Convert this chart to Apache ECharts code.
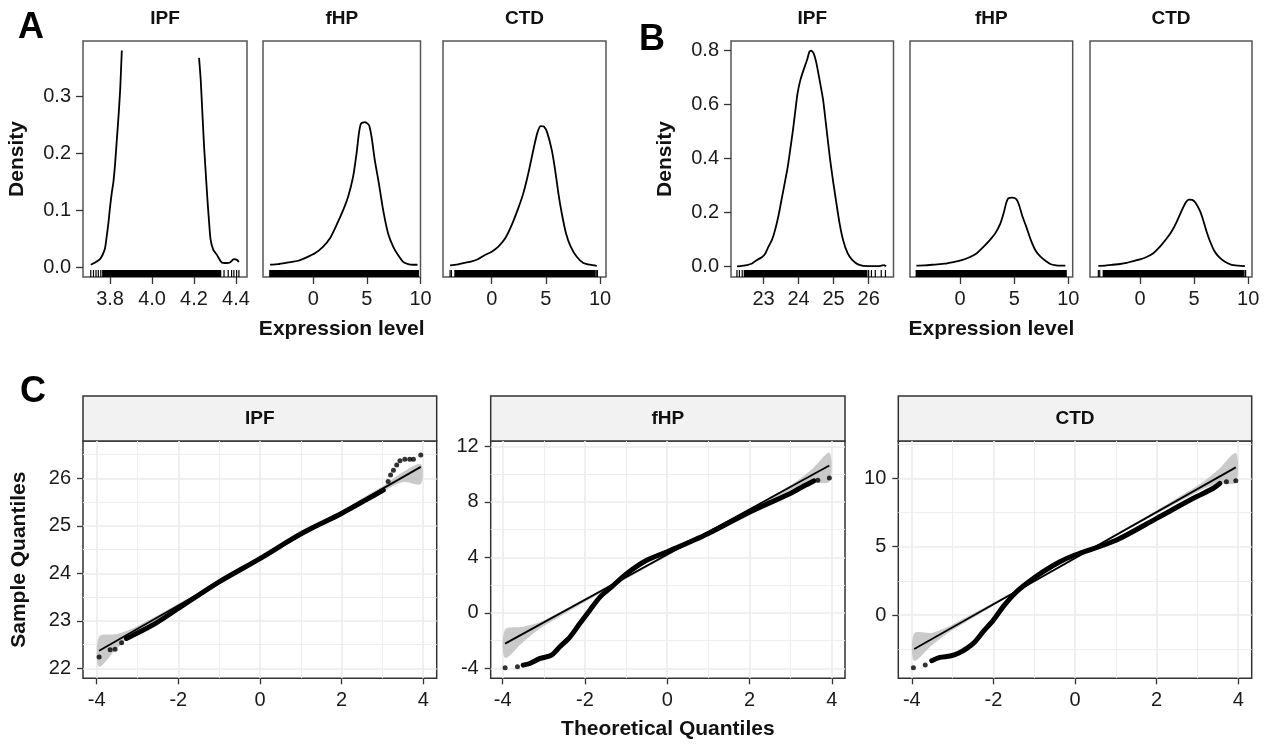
<!DOCTYPE html>
<html>
<head>
<meta charset="utf-8">
<title>Expression density and QQ plots</title>
<script src="https://cdn.jsdelivr.net/npm/echarts@6/dist/echarts.min.js"></script>
<style>
    html, body { margin: 0; padding: 0; background: #fff; }
    #chart { width: 1270px; height: 745px; }
</style>
</head>
<body>
<div id="chart"></div>
<script>
    const FONT = '"Liberation Sans", Arial, sans-serif';

    // ---------- A / B : density curves ----------
    const aIpfLeftX  = [3.708, 3.729, 3.752, 3.765, 3.776, 3.784, 3.792, 3.800, 3.808, 3.816, 3.824, 3.832, 3.840, 3.848, 3.856];
    const aIpfLeftY  = [0.004, 0.008, 0.014, 0.022, 0.033, 0.054, 0.077, 0.106, 0.130, 0.150, 0.182, 0.223, 0.264, 0.311, 0.381];
    const aIpfRightX = [4.224, 4.232, 4.240, 4.248, 4.256, 4.263, 4.271, 4.279, 4.292, 4.308, 4.332, 4.356, 4.371, 4.390, 4.403, 4.414];
    const aIpfRightY = [0.368, 0.329, 0.270, 0.212, 0.165, 0.124, 0.083, 0.048, 0.030, 0.022, 0.008, 0.007, 0.008, 0.014, 0.013, 0.009];

    const bIpfX = [22.24, 22.38, 22.53, 22.67, 22.81, 22.95, 23.05, 23.14, 23.24, 23.33, 23.43, 23.53, 23.62, 23.69, 23.76, 23.84, 23.91, 23.97,
                   24.05, 24.14, 24.24, 24.31, 24.36, 24.43, 24.51, 24.60, 24.70, 24.79, 24.89, 24.98, 25.08, 25.17, 25.27, 25.40, 25.53, 25.71, 26.00, 26.29, 26.43, 26.50];
    const bIpfY = [0.001, 0.003, 0.006, 0.012, 0.025, 0.035, 0.049, 0.074, 0.099, 0.136, 0.191, 0.259, 0.320, 0.369, 0.431, 0.505, 0.579, 0.640,
                   0.689, 0.726, 0.763, 0.794, 0.798, 0.788, 0.751, 0.689, 0.616, 0.517, 0.406, 0.320, 0.234, 0.160, 0.099, 0.050, 0.025, 0.008, 0.002, 0.002, 0.006, 0.002];

    const fhpDensX = [-4.03, -3.26, -2.33, -1.40, -0.61, 0.16, 0.93, 1.55, 2.18, 2.79, 3.26, 3.72, 4.04, 4.26, 4.44, 4.81, 5.19, 5.44, 5.74, 6.12, 6.52, 6.98, 7.45, 7.91, 8.38, 8.85, 9.31, 9.72];
    const fhpDensY = [0.004, 0.005, 0.008, 0.011, 0.017, 0.024, 0.036, 0.050, 0.074, 0.100, 0.124, 0.159, 0.200, 0.235, 0.252, 0.255, 0.250, 0.229, 0.188, 0.147, 0.100, 0.059, 0.036, 0.021, 0.009, 0.005, 0.004, 0.004];

    const ctdDensX = [-3.85, -3.23, -2.62, -1.85, -1.24, -0.62, 0.00, 0.61, 1.23, 1.85, 2.46, 2.92, 3.38, 3.84, 4.21, 4.52, 4.83, 5.13, 5.54, 5.85, 6.15, 6.46, 6.86, 7.29, 7.85, 8.46, 9.08, 9.70];
    const ctdDensY = [0.003, 0.004, 0.007, 0.010, 0.014, 0.021, 0.027, 0.036, 0.050, 0.074, 0.104, 0.130, 0.165, 0.206, 0.236, 0.248, 0.247, 0.236, 0.206, 0.171, 0.130, 0.095, 0.059, 0.036, 0.018, 0.007, 0.004, 0.002];

    // rug: isolated ticks + one dense band [from, to]
    const aIpfRugTicks = [3.708, 3.721, 3.733, 3.744, 3.756, 4.343, 4.363, 4.379, 4.390, 4.403, 4.414];
    const aIpfRugBand  = [3.765, 4.327];
    const bIpfRugTicks = [22.24, 22.31, 22.39, 26.00, 26.08, 26.19, 26.36, 26.48];
    const bIpfRugBand  = [22.45, 25.95];
    const fhpRugTicks  = [];
    const fhpRugBand   = [-4.05, 9.80];
    const ctdRugTicks  = [-3.85, -3.72, 9.70, 9.76];
    const ctdRugBand   = [-3.40, 9.55];

    const aYTicks    = [0, 0.1, 0.2, 0.3];
    const bYTicks    = [0, 0.2, 0.4, 0.6, 0.8];
    const aIpfXTicks = [3.8, 4.0, 4.2, 4.4];
    const bIpfXTicks = [23, 24, 25, 26];
    const groupXTicks = [0, 5, 10];

    // ---------- C : QQ plots ----------
    const ipfQqX = [-3.27, -2.61, -2.00, -1.00, 0.00, 1.02, 2.00, 2.61, 3.02];
    const ipfQqY = [22.63, 22.92, 23.26, 23.82, 24.31, 24.84, 25.26, 25.55, 25.75];
    const ipfQqDots = [[-3.94, 22.24], [-3.67, 22.39], [-3.55, 22.40], [-3.39, 22.54], [3.14, 25.93], [3.20, 26.07], [3.27, 26.17], [3.35, 26.28],
                       [3.43, 26.37], [3.55, 26.40], [3.67, 26.40], [3.76, 26.40], [3.94, 26.49]];
    const ipfFitX = [-3.94, 3.94];
    const ipfFitY = [22.37, 26.24];
    const ipfBandX  = [-3.94, -3.50, -3.00, 0.00, 3.00, 3.50, 3.94];
    const ipfBandLo = [22.03, 22.42, 22.77, 24.27, 25.71, 25.92, 25.88];
    const ipfBandHi = [22.67, 22.72, 22.89, 24.33, 25.83, 26.13, 26.30];

    const fhpQqX = [-3.50, -3.34, -3.09, -2.81, -2.61, -2.36, -2.12, -1.88, -1.63, -1.35, -0.98, -0.50, 0.00, 1.00, 2.01, 2.99, 3.31, 3.56];
    const fhpQqY = [-3.77, -3.65, -3.29, -3.05, -2.45, -1.73, -0.76, 0.19, 1.15, 1.87, 2.84, 3.79, 4.40, 5.72, 7.27, 8.60, 9.12, 9.50];
    const fhpQqDots = [[-3.94, -3.96], [-3.64, -3.89], [3.66, 9.55], [3.94, 9.72]];
    const fhpFitX = [-3.94, 3.94];
    const fhpFitY = [-2.22, 10.62];
    const fhpBandX  = [-3.94, -3.50, -3.00, 0.00, 3.00, 3.50, 3.94];
    const fhpBandLo = [-3.25, -2.10, -0.95, 4.10, 8.85, 9.35, 9.45];
    const fhpBandHi = [-1.20, -1.00, -0.55, 4.25, 9.20, 10.30, 11.55];

    const ctdQqX = [-3.51, -3.31, -3.06, -2.86, -2.65, -2.45, -2.25, -2.00, -1.76, -1.47, -1.18, -0.78, -0.37, 0.00, 1.02, 2.00, 2.90, 3.39, 3.55];
    const ctdQqY = [-3.34, -3.10, -3.00, -2.80, -2.44, -1.95, -1.22, -0.37, 0.61, 1.59, 2.32, 3.17, 3.90, 4.39, 5.49, 7.07, 8.54, 9.27, 9.63];
    const ctdQqDots = [[-3.96, -3.85], [-3.67, -3.66], [3.71, 9.75], [3.94, 9.83]];
    const ctdFitX = [-3.94, 3.94];
    const ctdFitY = [-2.48, 10.80];
    const ctdBandX  = [-3.94, -3.50, -3.00, 0.00, 3.00, 3.50, 3.94];
    const ctdBandLo = [-3.35, -2.20, -1.10, 4.12, 9.00, 9.60, 9.70];
    const ctdBandHi = [-1.35, -1.30, -0.70, 4.20, 9.45, 10.60, 11.85];

    const qqXTicks = [-4, -2, 0, 2, 4];
    const qqXMinor = [-3, -1, 1, 3];
    const ipfYTicks = [22, 23, 24, 25, 26];
    const ipfYMinor = [22.5, 23.5, 24.5, 25.5, 26.5];
    const fhpYTicks = [-4, 0, 4, 8, 12];
    const fhpYMinor = [-2, 2, 6, 10];
    const ctdYTicks = [0, 5, 10];
    const ctdYMinor = [-2.5, 2.5, 7.5, 12.5];

    // ---------- layout ----------
    const densPanels = [
        {name: 'IPF', left: 83,  width: 164,   xMin: 3.671, xMax: 4.4525, xTicks: aIpfXTicks, dec: 1, yMin: -0.0176, yMax: 0.3977, yTicks: aYTicks, showY: true},
        {name: 'fHP', left: 263, width: 157.5, xMin: -4.68, xMax: 10.0,   xTicks: groupXTicks, dec: 0, yMin: -0.0176, yMax: 0.3977, yTicks: aYTicks, xName: 'Expression level'},
        {name: 'CTD', left: 443, width: 163,   xMin: -4.50, xMax: 10.55,  xTicks: groupXTicks, dec: 0, yMin: -0.0176, yMax: 0.3977, yTicks: aYTicks},
        {name: 'IPF', left: 731, width: 162.5, xMin: 22.07, xMax: 26.71,  xTicks: bIpfXTicks, dec: 0, yMin: -0.038, yMax: 0.8335, yTicks: bYTicks, showY: true},
        {name: 'fHP', left: 910, width: 162.7, xMin: -4.62, xMax: 10.40,  xTicks: groupXTicks, dec: 0, yMin: -0.038, yMax: 0.8335, yTicks: bYTicks, xName: 'Expression level'},
        {name: 'CTD', left: 1090, width: 162,  xMin: -4.62, xMax: 10.35,  xTicks: groupXTicks, dec: 0, yMin: -0.038, yMax: 0.8335, yTicks: bYTicks}
    ];
    const qqPanels = [
        {name: 'IPF', left: 83,    width: 353.7, xMin: -4.335, xMax: 4.33, yMin: 21.79, yMax: 26.785, yTicks: ipfYTicks, yMinor: ipfYMinor, yName: 'Sample Quantiles'},
        {name: 'fHP', left: 490.7, width: 354.3, xMin: -4.29,  xMax: 4.32, yMin: -4.72, yMax: 12.38,  yTicks: fhpYTicks, yMinor: fhpYMinor, xName: 'Theoretical Quantiles'},
        {name: 'CTD', left: 898.3, width: 353.4, xMin: -4.33,  xMax: 4.33, yMin: -4.63, yMax: 12.73,  yTicks: ctdYTicks, yMinor: ctdYMinor}
    ];
    const DENS_TOP = 41, DENS_H = 236;
    const STRIP_TOP = 396, STRIP_H = 45;
    const QQ_TOP = 441, QQ_H = 237.3;
    const TICK_FS = 20, TITLE_FS = 21;

    const pairs = (xs, ys) => xs.map((x, k) => [x, ys[k]]);
    const titleStyle = {fontSize: TITLE_FS, fontWeight: 'bold', color: '#111', fontFamily: FONT};

    const grids = [], xAxes = [], yAxes = [], series = [], graphics = [];

    densPanels.forEach((p, i) => {
        grids.push({left: p.left, top: DENS_TOP, width: p.width, height: DENS_H, show: true,
                    borderColor: '#555', borderWidth: 1.5, backgroundColor: '#fff'});
        xAxes.push({
            type: 'value', gridIndex: i, min: p.xMin, max: p.xMax,
            axisLine: {show: false, onZero: false}, splitLine: {show: false},
            axisTick: {show: true, length: 7, customValues: p.xTicks, lineStyle: {color: '#333', width: 1.3}},
            axisLabel: {customValues: p.xTicks, margin: 12, fontSize: TICK_FS, color: '#1a1a1a', fontFamily: FONT,
                        formatter: v => v.toFixed(p.dec)},
            name: p.xName || '', nameLocation: 'middle', nameGap: 42, nameTextStyle: titleStyle
        });
        yAxes.push(p.showY ? {
            type: 'value', gridIndex: i, min: p.yMin, max: p.yMax,
            axisLine: {show: false, onZero: false}, splitLine: {show: false},
            axisTick: {show: true, length: 7, customValues: p.yTicks, lineStyle: {color: '#333', width: 1.3}},
            axisLabel: {customValues: p.yTicks, margin: 12, fontSize: TICK_FS, color: '#1a1a1a', fontFamily: FONT,
                        formatter: v => v.toFixed(1)},
            name: 'Density', nameLocation: 'middle', nameGap: 55, nameRotate: 90, nameTextStyle: titleStyle
        } : {type: 'value', gridIndex: i, min: p.yMin, max: p.yMax, show: false});
        graphics.push({type: 'text', x: p.left + p.width / 2, y: 19,
                       style: {text: p.name, align: 'center', verticalAlign: 'middle', font: 'bold 19px ' + FONT, fill: '#111'}});
    });

    qqPanels.forEach((p, j) => {
        const i = j + densPanels.length;
        grids.push({left: p.left, top: QQ_TOP, width: p.width, height: QQ_H, show: true,
                    borderColor: '#333', borderWidth: 1.5, backgroundColor: '#fff'});
        xAxes.push({
            type: 'value', gridIndex: i, min: p.xMin, max: p.xMax,
            axisLine: {show: false, onZero: false}, splitLine: {show: false},
            axisTick: {show: true, length: 6, customValues: qqXTicks, lineStyle: {color: '#333', width: 1.3}},
            axisLabel: {customValues: qqXTicks, margin: 12, fontSize: TICK_FS, color: '#1a1a1a', fontFamily: FONT},
            name: p.xName || '', nameLocation: 'middle', nameGap: 40, nameTextStyle: titleStyle
        });
        yAxes.push({
            type: 'value', gridIndex: i, min: p.yMin, max: p.yMax,
            axisLine: {show: false, onZero: false}, splitLine: {show: false},
            axisTick: {show: true, length: 6, customValues: p.yTicks, lineStyle: {color: '#333', width: 1.3}},
            axisLabel: {customValues: p.yTicks, margin: 12, fontSize: TICK_FS, color: '#1a1a1a', fontFamily: FONT},
            name: p.yName || '', nameLocation: 'middle', nameGap: 53, nameRotate: 90, nameTextStyle: titleStyle
        });
        graphics.push({type: 'rect', shape: {x: p.left, y: STRIP_TOP, width: p.width, height: STRIP_H},
                       style: {fill: '#f2f2f2', stroke: '#333', lineWidth: 1.5}});
        graphics.push({type: 'text', x: p.left + p.width / 2, y: STRIP_TOP + STRIP_H / 2,
                       style: {text: p.name, align: 'center', verticalAlign: 'middle', font: 'bold 19px ' + FONT, fill: '#111'}});
    });

    // panel letters
    [['A', 31, 28], ['B', 652, 40], ['C', 33, 392]].forEach(l => {
        graphics.push({type: 'text', x: l[1], y: l[2],
                       style: {text: l[0], align: 'center', verticalAlign: 'middle', font: 'bold 36px ' + FONT, fill: '#000'}});
    });

    function densLine(i, xs, ys) {
        return {type: 'line', xAxisIndex: i, yAxisIndex: i, data: pairs(xs, ys), symbol: 'none', smooth: 0.2,
                silent: true, lineStyle: {color: '#000', width: 1.8}, z: 3};
    }
    function rug(i, ticks, band) {
        return {
            type: 'custom', xAxisIndex: i, yAxisIndex: i, silent: true, z: 4,
            data: ticks.map(v => [v, v]).concat([band]),
            renderItem: function (params, api) {
                const cs = params.coordSys;
                const bottom = cs.y + cs.height;
                const x0 = api.coord([api.value(0), 0])[0];
                const x1 = api.coord([api.value(1), 0])[0];
                return {type: 'rect', shape: {x: x0 - 0.6, y: bottom - 7, width: Math.max(x1 - x0, 0) + 1.2, height: 7},
                        style: {fill: '#000'}};
            }
        };
    }

    series.push(densLine(0, aIpfLeftX, aIpfLeftY), densLine(0, aIpfRightX, aIpfRightY), rug(0, aIpfRugTicks, aIpfRugBand));
    series.push(densLine(1, fhpDensX, fhpDensY), rug(1, fhpRugTicks, fhpRugBand));
    series.push(densLine(2, ctdDensX, ctdDensY), rug(2, ctdRugTicks, ctdRugBand));
    series.push(densLine(3, bIpfX, bIpfY), rug(3, bIpfRugTicks, bIpfRugBand));
    series.push(densLine(4, fhpDensX, fhpDensY), rug(4, fhpRugTicks, fhpRugBand));
    series.push(densLine(5, ctdDensX, ctdDensY), rug(5, ctdRugTicks, ctdRugBand));

    function qqSeries(i, p, qx, qy, dots, fx, fy, bx, lo, hi) {
        const gridLines = []
            .concat(qqXTicks.map(v => ({xAxis: v, lineStyle: {width: 1.6}})))
            .concat(qqXMinor.map(v => ({xAxis: v, lineStyle: {width: 0.9}})))
            .concat(p.yTicks.map(v => ({yAxis: v, lineStyle: {width: 1.6}})))
            .concat(p.yMinor.map(v => ({yAxis: v, lineStyle: {width: 0.9}})));
        return [
            {type: 'line', xAxisIndex: i, yAxisIndex: i, data: [[fx[0], fy[0]]], symbol: 'none', silent: true,
             lineStyle: {opacity: 0}, z: 1,
             markLine: {silent: true, symbol: 'none', z: 1, label: {show: false}, animation: false,
                        lineStyle: {color: '#ebebeb', type: 'solid'}, data: gridLines}},
            {type: 'custom', xAxisIndex: i, yAxisIndex: i, silent: true, z: 2,
             data: [[bx[0], lo[0]]],
             renderItem: function (params, api) {
                 const up = bx.map((x, k) => api.coord([x, hi[k]]));
                 const down = bx.map((x, k) => api.coord([x, lo[k]])).reverse();
                 return {type: 'polygon', shape: {points: up.concat(down), smooth: 0.3},
                         style: {fill: '#bdbdbd', opacity: 0.8}};
             }},
            {type: 'line', xAxisIndex: i, yAxisIndex: i, data: pairs(qx, qy), symbol: 'none', smooth: 0.3, silent: true,
             lineStyle: {color: '#000', width: 5, cap: 'round', join: 'round'}, z: 3},
            {type: 'scatter', xAxisIndex: i, yAxisIndex: i, data: dots, symbol: 'circle', symbolSize: 5, silent: true,
             itemStyle: {color: '#000'}, z: 3},
            {type: 'line', xAxisIndex: i, yAxisIndex: i, data: pairs(fx, fy), symbol: 'none', silent: true,
             lineStyle: {color: '#000', width: 1.8}, z: 4}
        ];
    }
    const off = densPanels.length;
    series.push(...qqSeries(off, qqPanels[0], ipfQqX, ipfQqY, ipfQqDots, ipfFitX, ipfFitY, ipfBandX, ipfBandLo, ipfBandHi));
    series.push(...qqSeries(off + 1, qqPanels[1], fhpQqX, fhpQqY, fhpQqDots, fhpFitX, fhpFitY, fhpBandX, fhpBandLo, fhpBandHi));
    series.push(...qqSeries(off + 2, qqPanels[2], ctdQqX, ctdQqY, ctdQqDots, ctdFitX, ctdFitY, ctdBandX, ctdBandLo, ctdBandHi));

    const myChart = echarts.init(document.getElementById('chart'));
    myChart.setOption({
        animation: false,
        backgroundColor: '#fff',
        grid: grids,
        xAxis: xAxes,
        yAxis: yAxes,
        series: series,
        graphic: graphics
    });
    window.addEventListener('resize', function () {
        myChart.resize();
    });
</script>
</body>
</html>
